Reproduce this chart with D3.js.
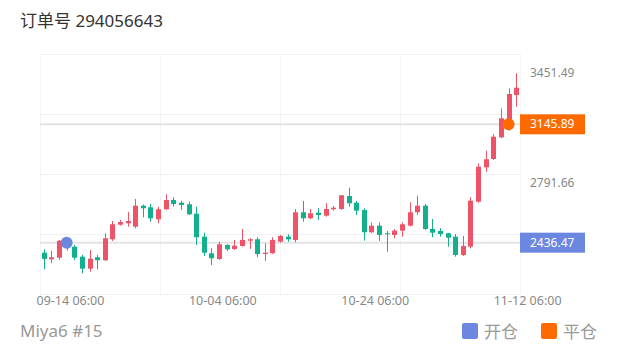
<!DOCTYPE html>
<html>
<head>
<meta charset="utf-8">
<script src="https://cdn.jsdelivr.net/npm/d3@7"></script>
<style>
  html,body{margin:0;padding:0;background:#fff;}
  svg{display:block;font-family:"Noto Sans","Noto Sans CJK SC",sans-serif;}
</style>
</head>
<body>
<svg id="kline" width="620" height="352"></svg>
<script>
// candles
var opens=[2376.5,2337.0,2346.6,2434.6,2412.5,2352.6,2280.7,2349.0,2331.0,2456.8,2544.3,2552.7,2532.3,2658.2,2648.6,2576.7,2636.6,2692.3,2676.1,2666.5,2610.2,2472.4,2372.9,2338.8,2422.7,2398.7,2416.7,2448.4,2456.8,2368.7,2372.9,2442.4,2472.4,2452.6,2618.6,2582.7,2616.2,2598.2,2636.6,2638.4,2716.3,2676.1,2632.4,2498.8,2538.3,2492.8,2482.6,2508.4,2538.3,2618.6,2658.2,2518.5,2506.6,2492.8,2472.4,2362.7,2412.5,2682.1,2888.2,2938.0,3068.0,3147.7,3321.5]
var highs=[2396.9,2388.5,2452.6,2458.6,2422.7,2362.7,2392.7,2362.7,2492.8,2566.5,2572.5,2620.4,2698.3,2665.3,2668.3,2652.2,2726.5,2708.5,2688.1,2682.1,2652.2,2496.4,2402.9,2442.4,2426.9,2452.6,2518.5,2462.8,2468.8,2432.9,2468.8,2482.6,2486.8,2638.4,2686.3,2638.4,2642.6,2672.5,2656.4,2722.3,2766.0,2686.3,2642.6,2557.5,2558.7,2506.6,2518.5,2558.7,2678.5,2718.1,2668.3,2578.5,2522.7,2494.6,2488.6,2476.6,2708.5,2912.2,2987.7,3087.8,3241.8,3361.6,3451.49]
var lows=[2277.1,2313.0,2332.8,2388.5,2332.8,2253.1,2262.7,2277.1,2326.8,2446.6,2538.3,2532.3,2522.7,2588.6,2562.3,2552.7,2632.4,2652.2,2632.4,2602.4,2422.7,2356.8,2302.8,2332.8,2386.7,2392.7,2412.5,2398.7,2349.0,2326.8,2368.7,2436.4,2442.4,2438.8,2562.3,2576.7,2572.5,2592.2,2628.2,2632.4,2652.2,2602.4,2448.4,2492.8,2446.6,2382.5,2462.8,2472.4,2533.5,2602.4,2512.5,2468.8,2472.4,2412.5,2352.6,2356.8,2402.9,2676.1,2861.9,2932.0,3062.0,3107.6,3251.4]
var closes=[2338.8,2349.0,2448.4,2416.7,2346.6,2280.7,2340.6,2331.0,2462.8,2546.7,2560.5,2566.5,2658.2,2642.6,2582.7,2636.6,2692.3,2668.3,2662.3,2606.6,2468.8,2376.5,2343.0,2426.9,2396.9,2418.5,2452.6,2456.8,2368.7,2376.5,2452.6,2476.6,2456.8,2618.6,2582.7,2612.6,2602.4,2638.4,2646.2,2720.5,2672.5,2628.2,2498.8,2538.3,2482.6,2486.8,2508.4,2546.7,2618.6,2658.2,2518.5,2496.4,2488.6,2466.4,2362.7,2416.7,2688.1,2891.8,2936.2,3071.6,3181.9,3327.5,3365.2]

var xTickIndex=[4,24,44,64]
var xTickLabels=['09-14 06:00','10-04 06:00','10-24 06:00','11-12 06:00']
var yLabels=[3451.49,2791.66]
var yDomain=[2131.83,3451.49]

var openTrade={index:3,price:2436.47}
var closeTrade={index:61,price:3145.89}

var title='订单号 294056643'
var footer='Miya6 #15'
var legendNames=['开仓','平仓']

var col={up:'#ee5468',down:'#12b08c',open:'#6b87e0',close:'#ff6a00',grid:'#f1f1f1',text:'#888'}

var svg=d3.select('#kline')
var plot={left:40,right:520,top:54,bottom:294}
var n=opens.length

var x=d3.scaleLinear().domain([0,n]).range([plot.left,plot.right])
var y=d3.scaleLinear().domain(yDomain).range([293.5,73.3])
var bw=(x(1)-x(0))*0.66

svg.append('text')
    .attr('x',20).attr('y',27)
    .attr('font-size',17).attr('fill','#333')
    .text(title)

// grid
var grid=svg.append('g').attr('id','grid')
grid.selectAll('line.h')
    .data(d3.range(plot.top,plot.bottom+1,60))
    .join('line').attr('class','h')
    .attr('x1',plot.left).attr('x2',plot.right)
    .attr('y1',d=>d+0.5).attr('y2',d=>d+0.5)
    .attr('stroke',col.grid).attr('stroke-width',1)
grid.selectAll('line.v')
    .data(d3.range(plot.left,plot.right+1,120))
    .join('line').attr('class','v')
    .attr('x1',d=>d+0.5).attr('x2',d=>d+0.5)
    .attr('y1',plot.top).attr('y2',plot.bottom)
    .attr('stroke','#f5f5f5').attr('stroke-width',1)

// trade price lines
svg.append('g').selectAll('line')
    .data([openTrade,closeTrade])
    .join('line')
    .attr('x1',plot.left).attr('x2',plot.right)
    .attr('y1',d=>y(d.price)).attr('y2',d=>y(d.price))
    .attr('stroke','#e3e3e3').attr('stroke-width',2)

// candles
var data=opens.map((o,i)=>({i:i,o:o,h:highs[i],l:lows[i],c:closes[i]}))
var cg=svg.append('g').attr('id','candles')
    .selectAll('g').data(data).join('g')
cg.append('line')
    .attr('x1',d=>Math.round(x(d.i+0.5))+0.5)
    .attr('x2',d=>Math.round(x(d.i+0.5))+0.5)
    .attr('y1',d=>y(d.h)).attr('y2',d=>y(d.l))
    .attr('stroke',d=>d.c>=d.o?col.up:col.down)
    .attr('stroke-width',1)
cg.append('rect')
    .attr('x',d=>Math.round(x(d.i+0.5))+0.5-bw/2)
    .attr('width',bw)
    .attr('y',d=>y(Math.max(d.o,d.c)))
    .attr('height',d=>Math.max(1,y(Math.min(d.o,d.c))-y(Math.max(d.o,d.c))))
    .attr('fill',d=>d.c>=d.o?col.up:col.down)

// trade markers
svg.append('g').selectAll('circle')
    .data([{t:openTrade,c:col.open},{t:closeTrade,c:col.close}])
    .join('circle')
    .attr('cx',d=>x(d.t.index+0.5))
    .attr('cy',d=>y(d.t.price))
    .attr('r',6)
    .attr('fill',d=>d.c)

// right labels
svg.append('g').selectAll('text')
    .data(yLabels).join('text')
    .attr('x',530).attr('y',d=>y(d)+4)
    .attr('font-size',12).attr('fill',col.text)
    .text(d=>d.toFixed(2))
var tags=svg.append('g').selectAll('g')
    .data([{p:closeTrade.price,c:col.close},{p:openTrade.price,c:col.open}])
    .join('g')
tags.append('rect')
    .attr('x',520).attr('width',65)
    .attr('y',d=>y(d.p)-10).attr('height',20)
    .attr('fill',d=>d.c)
tags.append('text')
    .attr('x',530).attr('y',d=>y(d.p)+4)
    .attr('font-size',12).attr('fill','#fff')
    .text(d=>d.p.toFixed(2))

// x labels
svg.append('g').selectAll('text')
    .data(xTickIndex).join('text')
    .attr('x',d=>x(d)).attr('y',305)
    .attr('text-anchor','middle')
    .attr('font-size',12.5).attr('fill',col.text)
    .text((d,i)=>xTickLabels[i])

// footer
svg.append('text')
    .attr('x',20).attr('y',337)
    .attr('font-size',17).attr('fill','#999')
    .text(footer)
var lg=svg.append('g').selectAll('g')
    .data(legendNames).join('g')
    .attr('transform',(d,i)=>`translate(${462+i*79},323)`)
lg.append('rect')
    .attr('width',16).attr('height',16).attr('rx',2)
    .attr('fill',(d,i)=>i==0?col.open:col.close)
lg.append('text')
    .attr('x',22).attr('y',14.5)
    .attr('font-size',17).attr('fill','#999')
    .text(d=>d)
</script>
</body>
</html>
